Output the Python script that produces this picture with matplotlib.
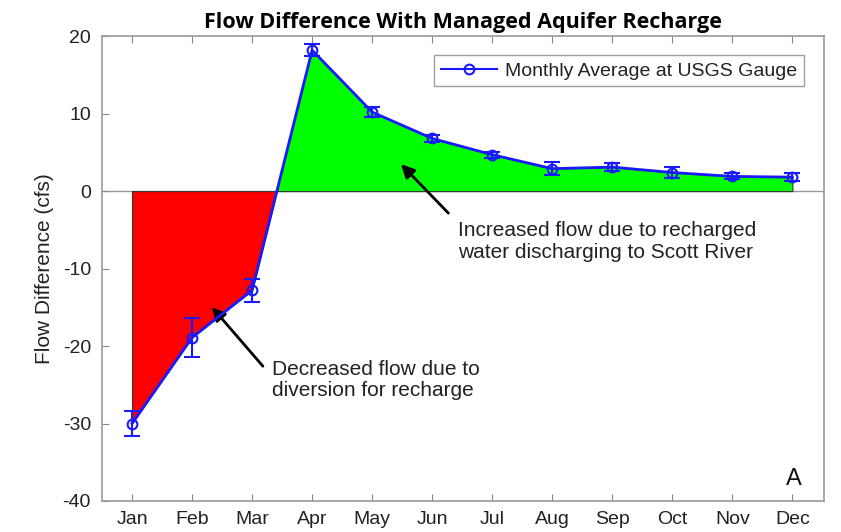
import matplotlib
matplotlib.use("Agg")
import matplotlib.pyplot as plt
from matplotlib.lines import Line2D
import numpy as np

months = ["Jan", "Feb", "Mar", "Apr", "May", "Jun", "Jul", "Aug", "Sep", "Oct", "Nov", "Dec"]
flow_diff = [-30.0, -18.9, -12.8, 18.2, 10.2, 6.8, 4.7, 2.9, 3.1, 2.4, 1.9, 1.8]
flow_err = [1.6, 2.5, 1.5, 0.8, 0.6, 0.4, 0.4, 0.8, 0.5, 0.7, 0.4, 0.5]

plt.rcParams['font.family'] = ['Liberation Sans', 'DejaVu Sans']
plt.rcParams['axes.unicode_minus'] = False

fig = plt.figure(figsize=(8.41, 5.32), dpi=100)
ax = fig.add_axes([0.1213, 0.0583, 0.8587, 0.8737])

x = np.arange(1, len(months) + 1)
y = np.array(flow_diff)
blue = '#1a1aff'

ax.fill_between(x, y, 0, where=y <= 0, interpolate=True, facecolor='#ff0000',
                edgecolor='#333333', linewidth=0.8, zorder=1)
ax.fill_between(x, y, 0, where=y >= 0, interpolate=True, facecolor='#00ff00',
                edgecolor='#333333', linewidth=0.8, zorder=1)
ax.axhline(0, color='#999999', linewidth=1.0, zorder=0.5)

ax.errorbar(x, y, yerr=flow_err, color=blue, linewidth=2, marker='o',
            markersize=7, markerfacecolor='none', markeredgewidth=1.5,
            capsize=6, capthick=1.5, elinewidth=1.5, zorder=3)

ax.set_xlim(0.5, 12.53)
ax.set_ylim(-40, 20)
ax.set_xticks(x)
ax.set_xticklabels(months)
ax.set_yticks([-40, -30, -20, -10, 0, 10, 20])
ax.tick_params(direction='in', top=True, right=False, labelsize=14,
               colors='#888888', labelcolor='#222222', length=5)
ax.tick_params(axis='x', pad=7)
ax.tick_params(axis='y', pad=8)
for s in ax.spines.values():
    s.set_color('#999999')
    s.set_linewidth(1.2)

ax.set_ylabel('Flow Difference (cfs)', fontsize=15, color='#222222', labelpad=6)
ax.set_title('Flow Difference With Managed Aquifer Recharge', fontsize=15.5,
             fontweight='bold', family=['Open Sans', 'DejaVu Sans'], pad=6)

handle = Line2D([], [], color=blue, linewidth=1.5, marker='o', markersize=7,
                markerfacecolor='none', markeredgewidth=1.5)
leg = ax.legend([handle], ['Monthly Average at USGS Gauge'], loc='upper right',
                fontsize=14, frameon=True, fancybox=False,
                bbox_to_anchor=(0.985, 0.98), handlelength=2.9, borderpad=0.35,
                handletextpad=0.4)
leg.get_frame().set_edgecolor('#888888')
leg.get_frame().set_linewidth(1.0)
for t in leg.get_texts():
    t.set_color('#222222')

arrow_kw = dict(arrowstyle='-|>', color='black', lw=2, mutation_scale=20,
                shrinkA=0, shrinkB=0)
ax.annotate('', xy=(5.48, 3.48), xytext=(6.27, -2.84), arrowprops=arrow_kw)
ax.annotate('', xy=(2.33, -14.97), xytext=(3.18, -22.6), arrowprops=arrow_kw)

ax.text(6.43, -6.5, 'Increased flow due to recharged\nwater discharging to Scott River',
        fontsize=15, color='#222222', ha='left', va='center', linespacing=1.15)
ax.text(3.33, -24.4, 'Decreased flow due to\ndiversion for recharge',
        fontsize=15, color='#222222', ha='left', va='center', linespacing=1.15)
ax.text(12.02, -37.2, 'A', fontsize=17, color='#111111', ha='center', va='center')

fig.savefig('out.png', dpi=100)
